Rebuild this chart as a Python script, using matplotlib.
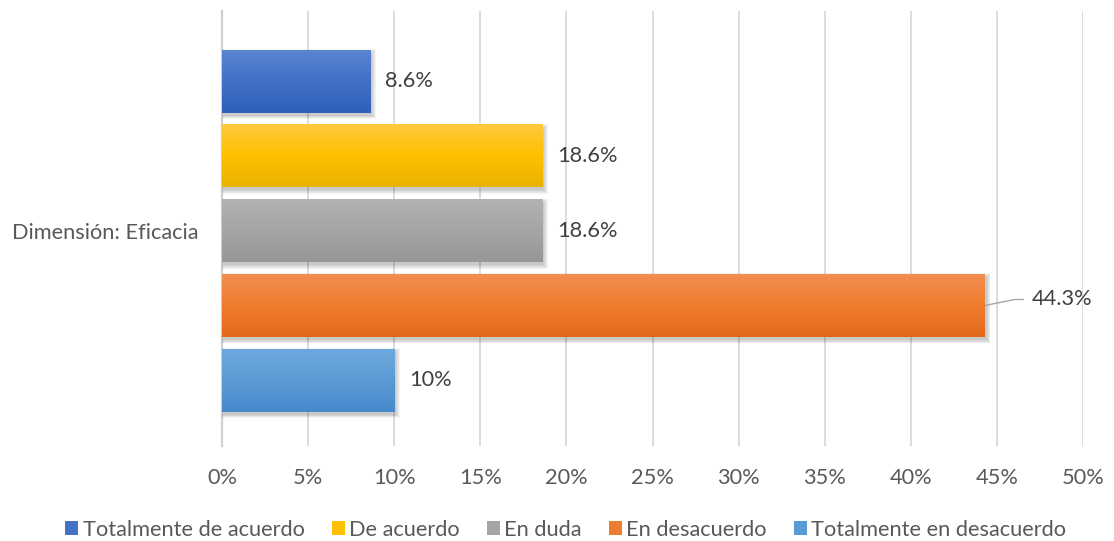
import numpy as np
import matplotlib
matplotlib.use("Agg")
import matplotlib.pyplot as plt
from matplotlib.patches import Rectangle, Patch
from matplotlib.colors import to_rgb

# Survey results for the "Eficacia" dimension (percent of respondents)
category = "Dimensión: Eficacia"
series = ["Totalmente de acuerdo", "De acuerdo", "En duda", "En desacuerdo",
          "Totalmente en desacuerdo"]
values = [8.6, 18.6, 18.6, 44.3, 10.0]
value_labels = ["8.6%", "18.6%", "18.6%", "44.3%", "10%"]
x_ticks = [0, 5, 10, 15, 20, 25, 30, 35, 40, 45, 50]
x_tick_labels = ["0%", "5%", "10%", "15%", "20%", "25%", "30%", "35%", "40%", "45%", "50%"]

# (top, middle, bottom) gradient stops per series
gradients = [
    ("#5b84d1", "#4270c7", "#2f5fbb"),
    ("#ffc93d", "#ffc000", "#e9b300"),
    ("#b2b2b2", "#a5a5a5", "#979797"),
    ("#f28e52", "#ef7c2e", "#e3691a"),
    ("#6da8de", "#5b9bd5", "#4689cc"),
]
legend_colors = ["#4472c4", "#ffc000", "#a5a5a5", "#ed7d31", "#5b9bd5"]

FONT = "Lato"
plt.rcParams["font.family"] = [FONT, "DejaVu Sans"]

W, H, DPI = 1114, 541, 100
fig = plt.figure(figsize=(W / DPI, H / DPI), dpi=DPI)
PT = 72.0 / DPI  # points per pixel

# size the text so the category label spans its column
probe = fig.text(0, 0, category, fontsize=10)
fig.canvas.draw()
pw = probe.get_window_extent().width
probe.remove()
fs = 10 * 186.0 / pw

left_px, right_px, top_px, bottom_px = 222, 1083, 11, 446
ax = fig.add_axes([left_px / W, 1 - bottom_px / H,
                   (right_px - left_px) / W, (bottom_px - top_px) / H])

bar_h = 0.84
ypos = np.arange(len(values))
ax.set_xlim(0, 50)
ax.set_ylim(4.88, -0.94)

px_x = (right_px - left_px) / 50.0        # pixels per percent
px_y = (bottom_px - top_px) / (4.88 + 0.94)  # pixels per category slot


def vgrad(stops, n=64):
    c = [np.array(to_rgb(s)) for s in stops]
    t = np.linspace(0, 1, n)[:, None]
    top = c[0] + (c[1] - c[0]) * np.clip(t * 2, 0, 1)
    bot = c[1] + (c[2] - c[1]) * np.clip(t * 2 - 1, 0, 1)
    arr = np.where(t < 0.5, top, bot)
    return arr[:, None, :]


for i, (v, g) in enumerate(zip(values, gradients)):
    y0 = ypos[i] - bar_h / 2
    # soft drop shadow
    for k in range(5):
        ex = k * 0.9
        ax.add_patch(Rectangle(((2 - ex) / px_x, y0 + (3 - ex) / px_y),
                               v + (2 * ex) / px_x, bar_h + (2 * ex) / px_y,
                               facecolor="black", edgecolor="none",
                               alpha=0.045, zorder=2))
    ax.imshow(vgrad(g), extent=(0, v, ypos[i] + bar_h / 2, y0),
              aspect="auto", interpolation="bilinear", zorder=3)

ax.set_xlim(0, 50)
ax.set_ylim(4.88, -0.94)

# value labels
for i, (v, lab) in enumerate(zip(values, value_labels)):
    if v > 40:
        x1 = v + 30 / px_x
        yl = ypos[i] - 6 / px_y
        ax.plot([v, x1, v + 39 / px_x], [ypos[i], yl, yl], color="#a6a6a6",
                lw=1.0, zorder=4, solid_capstyle="butt")
        ax.text(v + 47 / px_x, yl, lab, fontsize=fs, color="#404040",
                va="center", ha="left", zorder=5)
    else:
        ax.text(v + 15 / px_x, ypos[i], lab, fontsize=fs, color="#404040",
                va="center", ha="left", zorder=5)

ax.set_xticks(x_ticks)
ax.set_xticklabels(x_tick_labels, fontsize=fs, color="#595959")
ax.set_yticks([2])
ax.set_yticklabels([category], fontsize=fs, color="#595959")
ax.tick_params(axis="both", length=0)
ax.tick_params(axis="x", pad=22 * PT)
ax.tick_params(axis="y", pad=24 * PT)

ax.grid(axis="x", color="#d9d9d9", lw=1.3, zorder=0)
ax.set_axisbelow(True)
for s in ["top", "right", "bottom"]:
    ax.spines[s].set_visible(False)
ax.spines["left"].set_color("#d0d0d0")
ax.spines["left"].set_linewidth(1.6)
ax.spines["left"].set_zorder(1)

handles = [Patch(facecolor=c, edgecolor="none") for c in legend_colors]
fig.legend(handles, series, loc="center", bbox_to_anchor=(0.508, 1 - 530 / H),
           ncol=5, frameon=False, fontsize=fs, labelcolor="#595959",
           handlelength=0.6, handleheight=0.6, handletextpad=0.2,
           columnspacing=1.25)

fig.savefig("out.png", dpi=DPI)
